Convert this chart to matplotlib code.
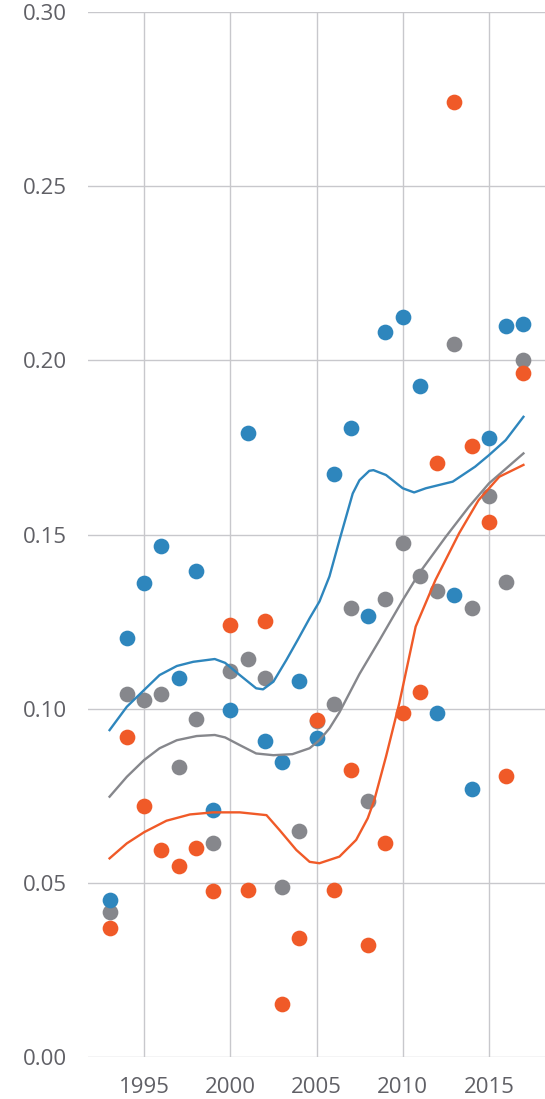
'''
三组散点 + 平滑趋势线
'''
import numpy as np
import matplotlib
matplotlib.use('Agg')
from matplotlib import pyplot as plt
matplotlib.rcParams['font.family'] = ['Open Sans', 'DejaVu Sans']

years = np.arange(1993, 2018)

blue_vals = [0.0451, 0.1204, 0.1360, 0.1467, 0.1089, 0.1395, 0.0711, 0.0998, 0.1791,
             0.0907, 0.0848, 0.1080, 0.0917, 0.1674, 0.1805, 0.1266, 0.2081, 0.2123,
             0.1925, 0.0987, 0.1327, 0.0769, 0.1776, 0.2099, 0.2104]
gray_vals = [0.0416, 0.1044, 0.1025, 0.1044, 0.0834, 0.0970, 0.0614, 0.1108, 0.1143,
             0.1089, 0.0489, 0.0649, 0.0965, 0.1013, 0.1288, 0.0735, 0.1315, 0.1475,
             0.1381, 0.1339, 0.2047, 0.1289, 0.1611, 0.1363, 0.2001]
orange_vals = [0.0370, 0.0920, 0.0721, 0.0594, 0.0549, 0.0602, 0.0477, 0.1240, 0.0479,
               0.1253, 0.0152, 0.0343, 0.0968, 0.0481, 0.0824, 0.0321, 0.0616, 0.0987,
               0.1049, 0.1706, 0.2742, 0.1755, 0.1535, 0.0807, 0.1963]

# 趋势线 (从图上读的)
blue_trend_x = [1993.0, 1994.0, 1995.0, 1995.9, 1996.9, 1997.85, 1999.1, 1999.7, 2000.55,
                2001.5, 2001.9, 2002.5, 2003.25, 2003.9, 2004.6, 2005.17, 2005.75, 2006.33,
                2007.1, 2007.49, 2008.06, 2008.3, 2009.03, 2010.0, 2010.66, 2011.34,
                2012.9, 2014.2, 2015.0, 2015.97, 2017.0]
blue_trend_y = [0.0939, 0.1006, 0.1054, 0.1097, 0.1123, 0.1135, 0.1143, 0.1132, 0.1097,
                0.1059, 0.1056, 0.1078, 0.1140, 0.1197, 0.1260, 0.1308, 0.1380, 0.1484,
                0.1618, 0.1656, 0.1683, 0.1685, 0.1671, 0.1633, 0.1621, 0.1633,
                0.1652, 0.1695, 0.1728, 0.1771, 0.1838]
gray_trend_x = [1993.0, 1994.0, 1995.0, 1995.9, 1996.9, 1998.05, 1999.1, 1999.7, 2000.55,
                2001.5, 2002.5, 2003.6, 2004.6, 2005.17, 2005.75, 2006.33, 2007.49, 2008.64,
                2010.0, 2010.95, 2012.5, 2013.84, 2015.0, 2017.0]
gray_trend_y = [0.0748, 0.0805, 0.0853, 0.0887, 0.0910, 0.0922, 0.0925, 0.0918, 0.0896,
                0.0872, 0.0867, 0.0870, 0.0887, 0.0910, 0.0944, 0.0990, 0.1100, 0.1196,
                0.1312, 0.1389, 0.1494, 0.1580, 0.1647, 0.1733]
orange_trend_x = [1993.0, 1994.0, 1995.0, 1996.3, 1997.66, 1999.0, 2000.55, 2002.1, 2002.86,
                  2003.83, 2004.6, 2005.17, 2006.33, 2007.3, 2007.97, 2008.35, 2009.03, 2009.8,
                  2010.75, 2011.9, 2013.27, 2014.4, 2015.6, 2017.0]
orange_trend_y = [0.0571, 0.0614, 0.0646, 0.0679, 0.0697, 0.0703, 0.0703, 0.0695, 0.0652,
                  0.0595, 0.0561, 0.0557, 0.0576, 0.0624, 0.0686, 0.0738, 0.0863, 0.1016,
                  0.1236, 0.1370, 0.1504, 0.1599, 0.1666, 0.1700]

y_ticks = [0.00, 0.05, 0.10, 0.15, 0.20, 0.25, 0.30]
x_ticks = [1995, 2000, 2005, 2010, 2015]

c_blue = '#2e86bd'
c_gray = '#86878c'
c_orange = '#f05a28'

fig = plt.figure(figsize=(5.45, 10.99), dpi=100)
ax = fig.add_axes([0.1615, 0.0379, 0.8385, 0.9513])

ax.scatter(years, gray_vals, s=128, color=c_gray, linewidths=0, zorder=3)
ax.scatter(years, blue_vals, s=128, color=c_blue, linewidths=0, zorder=4)
ax.scatter(years, orange_vals, s=128, color=c_orange, linewidths=0, zorder=5)

ax.plot(blue_trend_x, blue_trend_y, color=c_blue, lw=1.7, zorder=6, solid_joinstyle='round')
ax.plot(gray_trend_x, gray_trend_y, color=c_gray, lw=1.7, zorder=6, solid_joinstyle='round')
ax.plot(orange_trend_x, orange_trend_y, color=c_orange, lw=1.7, zorder=6, solid_joinstyle='round')

ax.set_xlim(1991.75, 2018.25)
ax.set_ylim(0, 0.30)
ax.set_yticks(y_ticks)
ax.set_yticklabels(['%.2f' % v for v in y_ticks])
ax.set_xticks(x_ticks)
ax.set_xticklabels([str(v) for v in x_ticks])

ax.grid(True, color='#c8c8cc', lw=1.0)
ax.set_axisbelow(True)
for s in ax.spines.values():
    s.set_visible(False)
ax.tick_params(length=0, labelsize=16, colors='#606066')
ax.tick_params(axis='y', pad=15)
ax.tick_params(axis='x', pad=14)

plt.savefig('out.png', dpi=100)
